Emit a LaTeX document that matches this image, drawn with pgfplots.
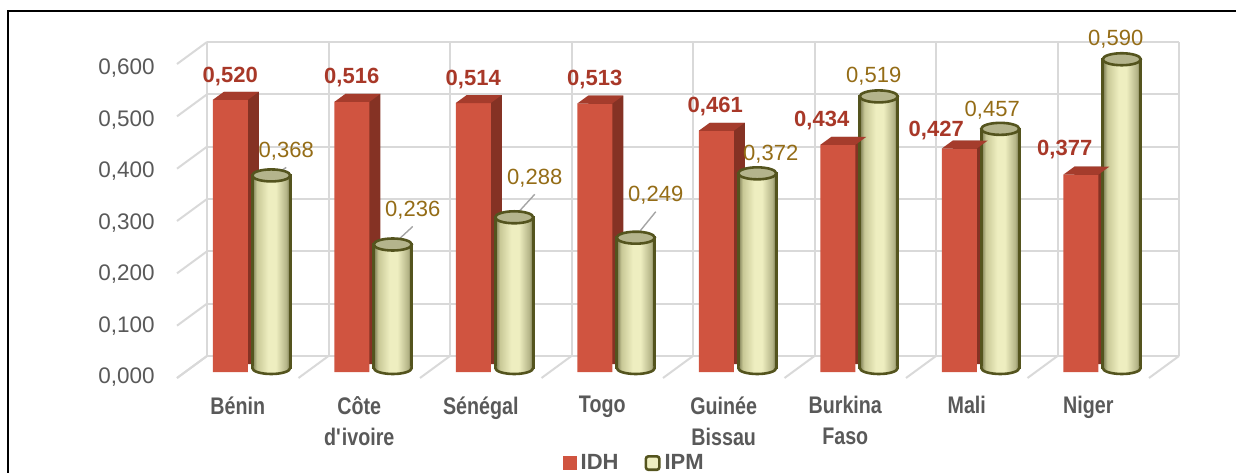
\documentclass[border=0pt]{standalone}
\usepackage{fontspec}
\setmainfont{Liberation Sans}
\newfontfamily\narrowfont[FakeStretch=0.82]{Liberation Sans}
\usepackage{pgfplots}
\pgfplotsset{compat=1.18}
\usepackage{pgfplotstable}

\definecolor{redfront}{RGB}{208,84,64}
\definecolor{redtop}{RGB}{165,60,44}
\definecolor{redside}{RGB}{133,50,36}
\definecolor{idhlab}{RGB}{168,56,40}
\definecolor{ipmlab}{RGB}{148,108,22}
\definecolor{cylline}{RGB}{84,84,30}
\definecolor{cyltopc}{RGB}{180,180,140}
\definecolor{cylL}{RGB}{120,120,80}
\definecolor{cylM}{RGB}{200,200,150}
\definecolor{cylC}{RGB}{238,238,192}
\definecolor{cylR1}{RGB}{180,180,135}
\definecolor{cylR}{RGB}{110,110,70}
\definecolor{gridgray}{RGB}{217,217,217}
\definecolor{txtgray}{RGB}{89,89,89}
\definecolor{leadgray}{RGB}{165,165,165}

\pgfdeclarehorizontalshading{cylsh}{100bp}{color(0bp)=(cylL); color(25bp)=(cylL); color(31bp)=(cylM); color(46bp)=(cylC); color(56bp)=(cylC); color(70bp)=(cylR1); color(75bp)=(cylR); color(100bp)=(cylR)}

\pgfdeclareplotmark{redtopface}{%
  \pgfpathmoveto{\pgfqpoint{-8.75pt}{0pt}}%
  \pgfpathlineto{\pgfqpoint{8.75pt}{0pt}}%
  \pgfpathlineto{\pgfqpoint{14.25pt}{4pt}}%
  \pgfpathlineto{\pgfqpoint{-3.25pt}{4pt}}%
  \pgfpathclose
  \pgfusepathqfill}
\pgfdeclareplotmark{cyltopmark}{%
  \pgfpathellipse{\pgfpointorigin}{\pgfqpoint{9.5pt}{0pt}}{\pgfqpoint{0pt}{3pt}}%
  \pgfusepathqfillstroke}
\pgfdeclareplotmark{cylbotmark}{%
  \pgfpathmoveto{\pgfqpoint{-9.5pt}{0pt}}%
  \pgfpatharc{180}{360}{9.5pt and 3pt}%
  \pgfpathlineto{\pgfqpoint{8.85pt}{0pt}}%
  \pgfpathlineto{\pgfqpoint{8.85pt}{1pt}}%
  \pgfpathlineto{\pgfqpoint{-8.85pt}{1pt}}%
  \pgfpathlineto{\pgfqpoint{-8.85pt}{0pt}}%
  \pgfpathclose
  \pgfshadepath{cylsh}{0}%
  \pgfusepath{}%
  \pgfpathmoveto{\pgfqpoint{-9.5pt}{0pt}}%
  \pgfpatharc{180}{360}{9.5pt and 3pt}%
  \pgfusepathqstroke}

\pgfplotstableread{
x idh ipm zero idx idy ipx ipy
0 0.520 0.368 0 0 11.5 7.5 12
1 0.516 0.236 0 0 12 10 17
2 0.514 0.288 0 0 11.5 10.25 19.5
3 0.513 0.249 0 0 12 10 21
4 0.461 0.372 0 -0.5 12 6.75 9.5
5 0.434 0.519 0 -8 12 -2.5 10
6 0.427 0.457 0 -11.5 9 -4 9.5
7 0.377 0.590 0 -8 12.5 -3 10
}\data

\begin{document}
\begin{tikzpicture}
\begin{axis}[
  at={(96pt,50pt)}, anchor=south west,
  width=486pt, height=157pt, scale only axis,
  xmin=-0.5, xmax=7.5, ymin=0, ymax=0.6,
  clip=false,
  axis line style={draw=none},
  tick style={draw=none},
  xtick={0,1,2,3,4,5,6,7},
  xticklabels={B\'enin,{C\^ote\\d\textquotesingle ivoire},S\'en\'egal,Togo,{Guin\'ee\\Bissau},{Burkina\\Faso},Mali,Niger},
  xticklabel style={align=center, anchor=north, inner sep=0pt, xshift=-7.5pt, yshift=-12pt,
    font=\narrowfont\bfseries\fontsize{12}{15.5}\selectfont, text=txtgray},
  ytick={0,0.1,0.2,0.3,0.4,0.5,0.6},
  yticklabel style={inner sep=0pt, xshift=-18.5pt, yshift={-2.75pt-0.42pt*\ticknum},
    font=\fontsize{11.25}{13}\selectfont, text=txtgray,
    /pgf/number format/.cd, fixed, fixed zerofill, precision=3, use comma, assume math mode=true},
  legend columns=2,
  legend style={at={(0.456,-0.29)}, anchor=center, draw=none, fill=none,
    font=\bfseries\fontsize{11}{13}\selectfont, text=txtgray,
    /tikz/every even column/.append style={column sep=11pt}},
]
% back wall grid, side and floor lines
\pgfplotsinvokeforeach{0,0.1,0.2,0.3,0.4,0.5,0.6}{
  \draw[gridgray, line width=1pt] ([shift={(7.5pt,8pt)}]axis cs:-0.5,#1) -- ([shift={(7.5pt,8pt)}]axis cs:7.5,#1);
  \draw[gridgray, line width=1pt] ([shift={(-7.5pt,-3pt)}]axis cs:-0.5,#1) -- ([shift={(7.5pt,8pt)}]axis cs:-0.5,#1);
}
\pgfplotsinvokeforeach{-0.5,0.5,1.5,2.5,3.5,4.5,5.5,6.5,7.5}{
  \draw[gridgray, line width=1pt] ([shift={(7.5pt,8pt)}]axis cs:#1,0) -- ([shift={(7.5pt,8pt)}]axis cs:#1,0.6);
  \draw[gridgray, line width=1pt] ([shift={(-7.5pt,-3pt)}]axis cs:#1,0) -- ([shift={(7.5pt,8pt)}]axis cs:#1,0);
}

% IDH: depth, front, top face
\addplot[ybar, bar width=17.5pt, bar shift=-5.75pt, fill=redside, draw=none, yshift=4pt, forget plot]
  table[x=x, y=idh]{\data};
\addplot[ybar, bar width=17.5pt, bar shift=-11.25pt, fill=redfront, draw=none,
  visualization depends on={\thisrow{idx} \as \ldx},
  visualization depends on={\thisrow{idy} \as \ldy},
  nodes near coords={\pgfmathprintnumber[fixed,fixed zerofill,precision=3,use comma,assume math mode=true]{\pgfplotspointmeta}},
  every node near coord/.append style={anchor=center, xshift={\ldx pt-11.25pt}, yshift=\ldy pt,
    font=\bfseries\fontsize{11}{13}\selectfont, text=idhlab},
  legend image code/.code={\fill[redfront] (0pt,-3.5pt) rectangle (7pt,3.5pt);}]
  table[x=x, y=idh]{\data};
\addlegendentry{IDH}
\addplot[only marks, mark=redtopface, xshift=-11.25pt, mark options={fill=redtop, draw=none}, forget plot]
  table[x=x, y=idh]{\data};

% IPM: cylinder bodies (one plot per bar so that each is shaded on its own)
\pgfplotsinvokeforeach{0,1,2,3,4,5,6,7}{
  \addplot[ybar, bar width=19pt, bar shift=9.25pt, yshift=2pt, shade, shading=cylsh, draw=cylline, line width=1.3pt, forget plot,
    restrict x to domain=#1:#1]
    table[x=x, y=ipm]{\data};
}
\addlegendimage{legend image code/.code={\draw[cylline, line width=1.3pt, fill=cylC, rounded corners=1.2pt] (0.65pt,-3.35pt) rectangle (7.35pt,3.35pt);}}
\addlegendentry{IPM}
\addplot[only marks, mark=cylbotmark, xshift=9.25pt, yshift=2pt, mark options={draw=cylline, line width=1.3pt}, forget plot]
  table[x=x, y=zero]{\data};
\addplot[only marks, mark=cyltopmark, xshift=9.25pt, yshift=2pt, mark options={fill=cyltopc, draw=cylline, line width=1.3pt},
  visualization depends on={\thisrow{ipx} \as \lpx},
  visualization depends on={\thisrow{ipy} \as \lpy},
  nodes near coords={\pgfmathprintnumber[fixed,fixed zerofill,precision=3,use comma,assume math mode=true]{\pgfplotspointmeta}},
  every node near coord/.append style={anchor=center, xshift=\lpx pt, yshift=\lpy pt,
    font=\fontsize{11}{13}\selectfont, text=ipmlab},
  forget plot]
  table[x=x, y=ipm]{\data};

% leader lines
\draw[leadgray, line width=0.7pt] ([shift={(16.75pt,6pt)}]axis cs:0,0.368) -- ([shift={(6.25pt,-1pt)}]axis cs:0,0.368);
\draw[leadgray, line width=0.7pt] ([shift={(19.25pt,11pt)}]axis cs:1,0.236) -- ([shift={(6.25pt,-1pt)}]axis cs:1,0.236);
\draw[leadgray, line width=0.7pt] ([shift={(19.5pt,13.5pt)}]axis cs:2,0.288) -- ([shift={(6.25pt,-1pt)}]axis cs:2,0.288);
\draw[leadgray, line width=0.7pt] ([shift={(19.25pt,15pt)}]axis cs:3,0.249) -- ([shift={(6.25pt,-1pt)}]axis cs:3,0.249);
\end{axis}
\draw[black, line width=1pt] (4pt,-5pt) -- (4pt,230.5pt) -- (625pt,230.5pt);
\pgfresetboundingbox
\path[use as bounding box] (0,0) rectangle (618pt,236pt);
\end{tikzpicture}
\end{document}
